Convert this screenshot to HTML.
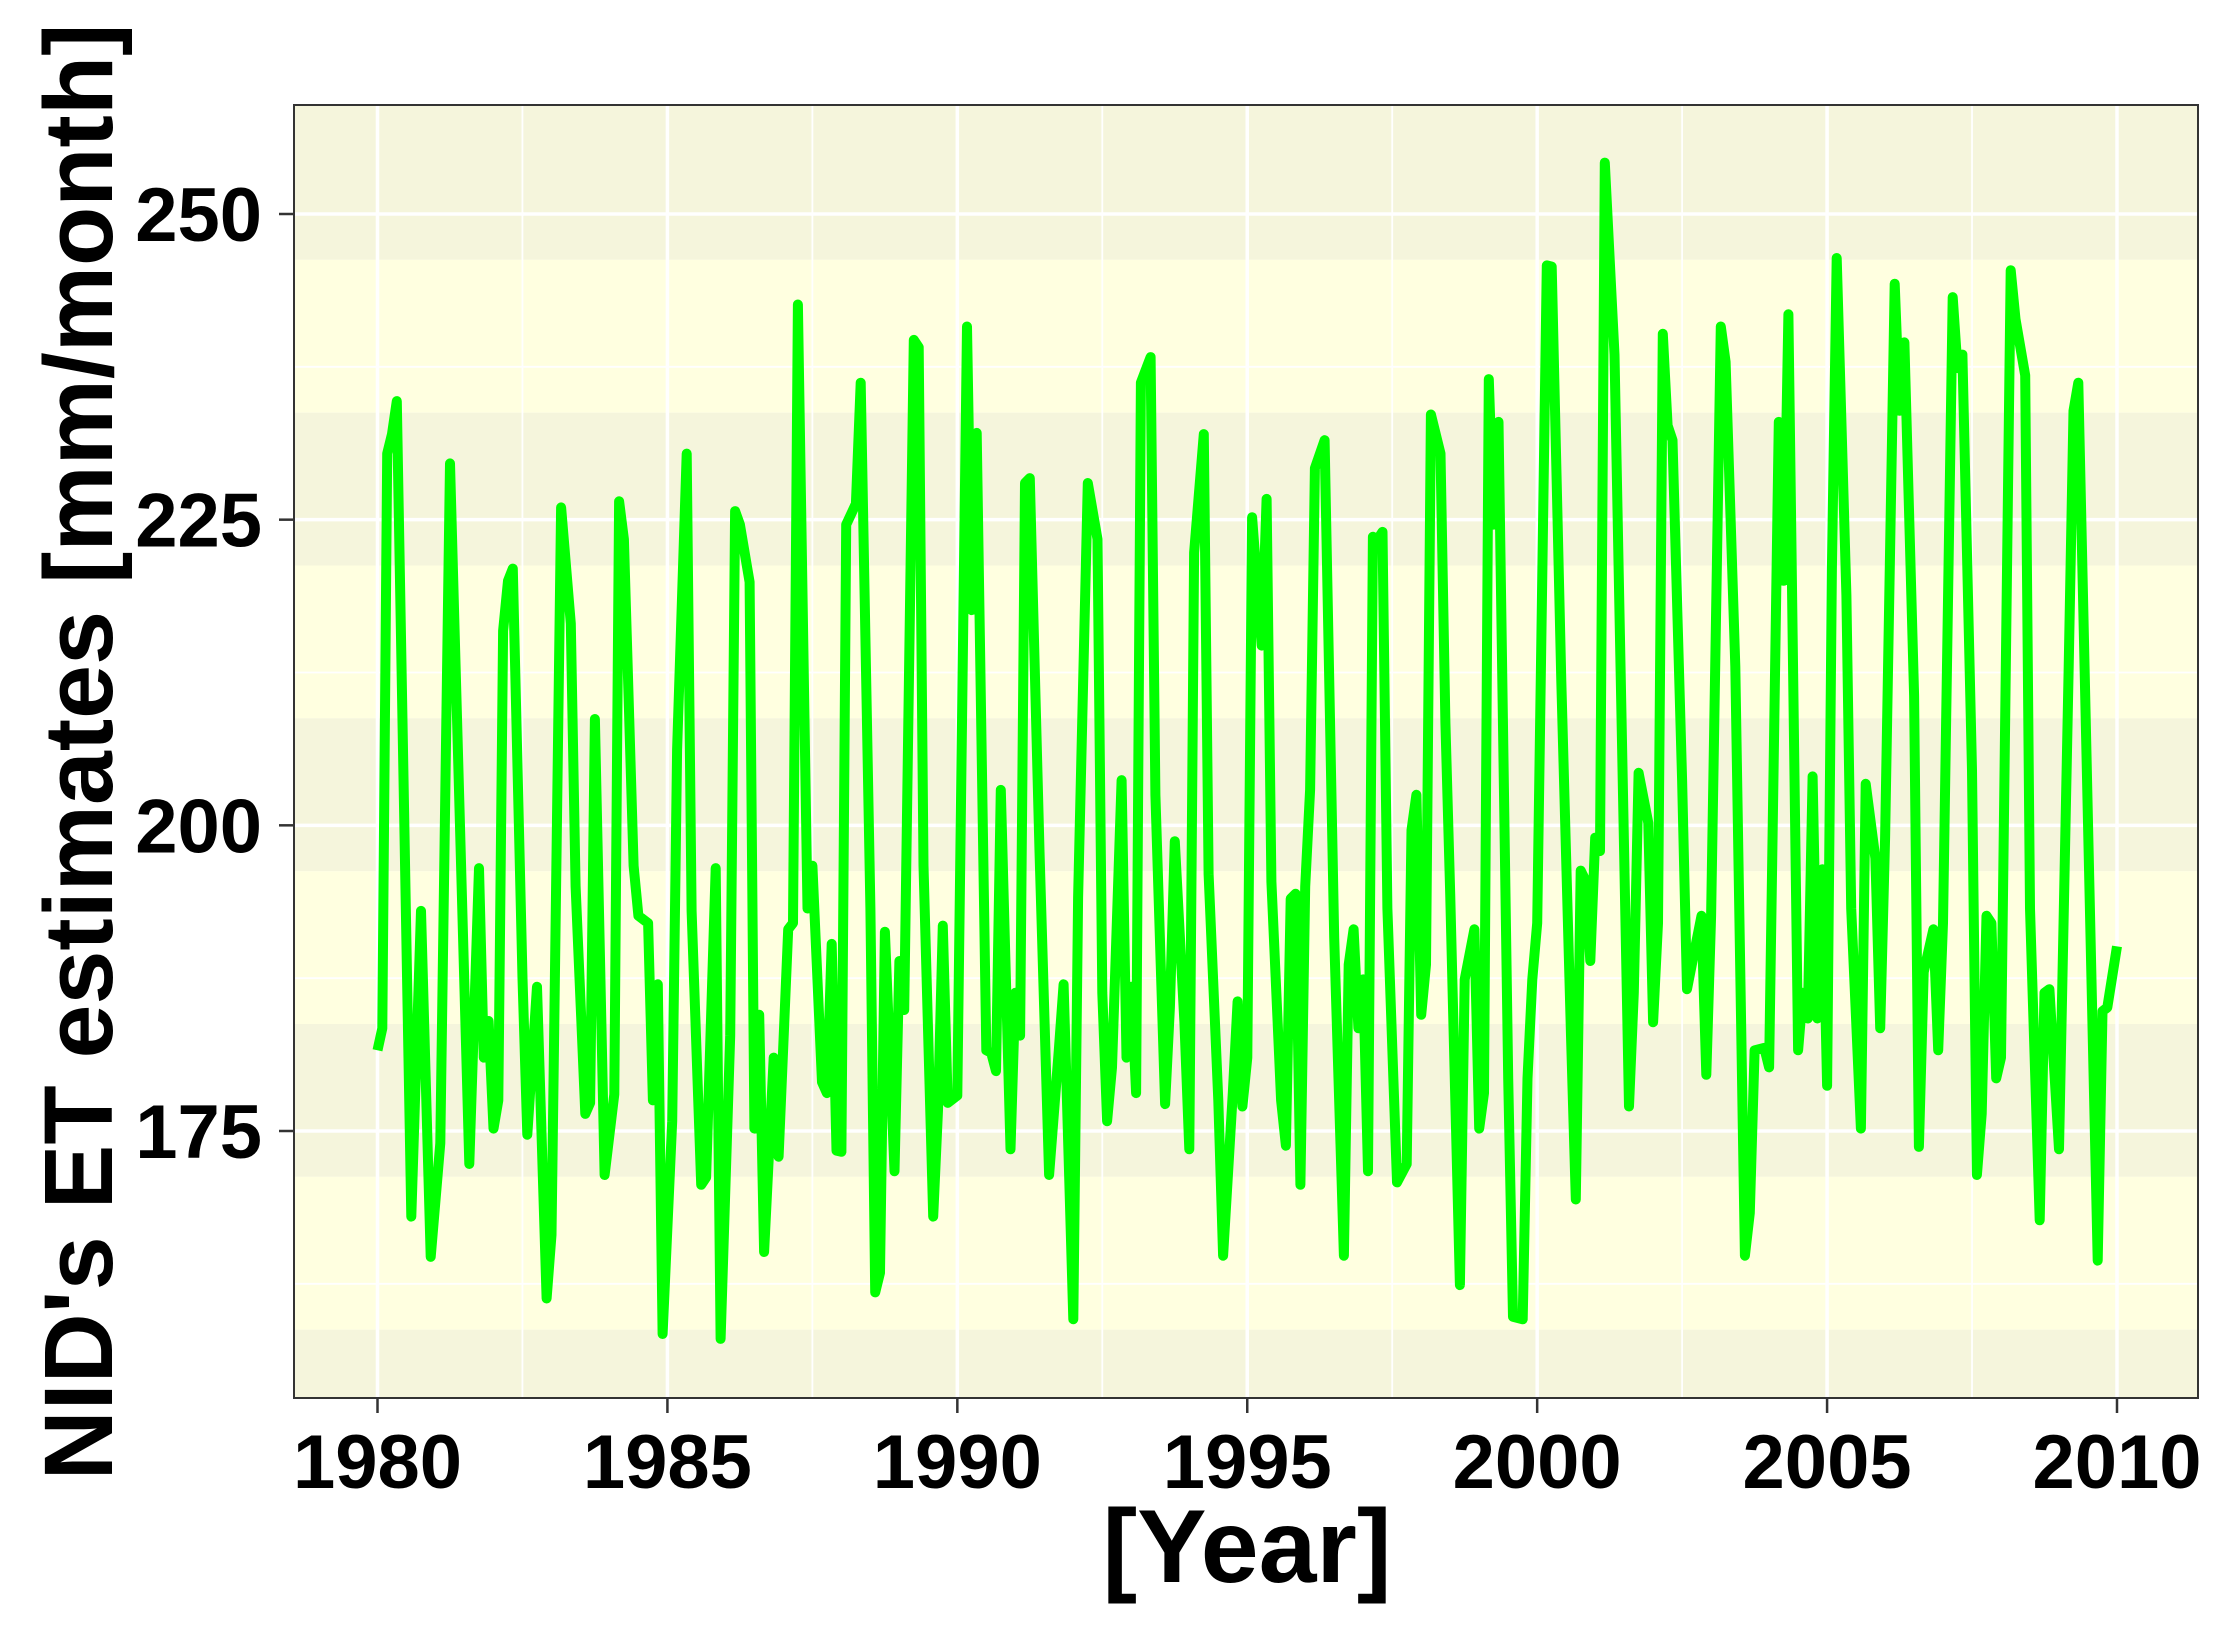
<!DOCTYPE html>
<html><head><meta charset="utf-8"><style>
html,body{margin:0;padding:0;background:#fff;}
svg{display:block;font-family:"Liberation Sans",Arial,sans-serif;font-weight:bold;}
</style></head><body>
<svg id="chart" width="2225" height="1626" viewBox="0 0 2225 1626" xmlns="http://www.w3.org/2000/svg">
<g id="bands"></g>
<g id="grid"></g>
<g id="series"></g>
<rect x="294" y="105" width="1904" height="1293" fill="none" stroke="#333" stroke-width="2"/>
<g id="axes"></g>
<text x="1247" y="1582" font-size="104" text-anchor="middle" fill="#000">[Year]</text>
<text transform="translate(112,752) rotate(-90)" font-size="97" text-anchor="middle" fill="#000">NID's ET estimates [mm/month]</text>
</svg>
<script>
const monthIdx=[0,1,2,3,4,7,9,11,13,15,19,21,22,23,24,25,26,27,28,30,31,33,35,36,38,40,41,43,44,45,47,49,50,51,53,54,56,57,58,59,61,62,64,65,67,68,70,71,73,74,75,77,78,79,80,82,83,85,86,87,89,90,92,93,94,95,96,97,99,100,102,103,104,105,107,108,109,111,112,113,115,116,117,118,120,122,123,124,126,127,128,129,131,132,133,134,135,137,139,141,142,144,145,147,149,150,151,152,154,155,156,157,158,160,161,163,164,165,167,168,169,171,172,174,175,177,178,179,180,181,183,184,185,187,188,189,190,191,192,193,194,196,198,200,201,202,203,204,205,206,207,208,209,211,213,214,215,216,217,218,220,221,222,224,225,227,228,229,230,231,232,234,235,237,238,239,240,242,243,245,247,248,249,250,251,252,253,254,256,258,259,260,261,263,264,265,266,267,268,270,271,272,274,275,276,278,279,281,283,284,285,287,288,290,291,292,294,295,296,297,298,299,300,301,302,304,305,307,308,310,311,312,314,315,316,318,319,320,322,323,324,326,327,328,330,331,332,333,334,335,336,338,339,341,342,344,345,346,348,350,351,352,354,356,357,358,360];
const etValues=[181.6,183.4,230.4,232,234.7,168,193,164.7,174,229.6,172.3,196.5,181,184,175.2,177.5,215.9,220,221,187.5,174.7,186.8,161.3,166.5,226,216.5,195,176.4,177.3,208.7,171.4,178,226.5,223.4,196.7,192.6,192,177.5,187,158.4,175.8,206.2,230.4,193,170.6,171.2,196.5,158,182.8,225.7,224.6,219.9,175.2,184.5,165.1,181,172.9,191.5,192,242.6,193.2,196.7,179,178.1,190.3,173.4,173.3,224.6,226.3,236.2,193.2,161.8,163.4,191.3,171.7,188.9,184.9,239.7,239.1,196.7,168,176.7,191.8,177.3,177.9,240.8,217.6,232.1,181.6,181.4,179.9,202.9,173.5,186.3,182.8,228,228.4,197.9,171.4,181.6,187,159.6,194.1,228,223.4,186.3,175.8,180.2,203.7,181,186.8,178.1,236.2,238.3,202.5,177.2,185.1,198.7,183.9,173.5,222.3,232,196,177.5,164.8,178.1,185.6,177,181,225.2,214.7,226.7,195.4,177.5,173.8,194,194.4,170.6,195,202.9,229.2,231.5,190.8,164.8,188.6,191.5,183.4,187.4,171.7,223.6,223.4,224,193.2,170.8,172.3,199.6,202.5,184.5,188.6,233.6,230.4,208.4,194.4,162.4,187.4,191.5,175.2,178.1,236.5,224.6,233,179.3,159.8,159.6,179.3,187.4,192,245.8,245.7,211.8,182.8,169.4,196.3,195.5,188.9,199,197.9,254.2,238.5,197.9,177,186.3,204.3,200.2,183.9,192,240.2,232.7,231.5,203.7,186.6,188.6,192.6,179.6,192.6,240.8,237.9,213,164.8,168.3,181.6,181.8,180.2,233,220,241.8,181.6,186.3,184.2,204,184.2,196.4,178.7,221,246.4,218.8,193.2,175.2,203.4,197.3,183.4,199,244.3,233.9,239.5,210.6,173.7,188,191.5,181.6,192,243.2,237.4,238.5,204.5,171.4,176.4,192.6,192,179.3,181,245.4,241.4,236.8,193.2,167.7,186.3,186.6,173.5,213,233.9,236.2,200.2,164.4,184.8,185.1,190.1];
const xTicks=[1980,1985,1990,1995,2000,2005,2010];
const yTicks=[175,200,225,250];
const startYear=1980;
const NS='http://www.w3.org/2000/svg';
const X0=294,X1=2198,Y0=105,Y1=1398;
function xs(yr){return 377.5+(yr-1980)*(2117-377.5)/30;}
function ys(v){return 214+(250-v)*(1131-214)/75;}
function vAt(y){return 250-(y-214)*75/(1131-214);}
function mk(tag,attrs,parent){const e=document.createElementNS(NS,tag);for(const k in attrs)e.setAttribute(k,attrs[k]);parent.appendChild(e);return e;}
const bandsG=document.getElementById('bands'),gridG=document.getElementById('grid'),axesG=document.getElementById('axes'),seriesG=document.getElementById('series');
let curTop=Y0,bIdx=0;
const edges=[];for(let v=246.25;v>vAt(Y1);v-=12.5)edges.push(ys(v));edges.push(Y1);
for(const e of edges){const r=mk('rect',{x:X0,y:curTop,width:X1-X0,height:e-curTop,fill:bIdx%2?'#ffffe0':'#f5f5dc'},bandsG);


curTop=e;bIdx++;}
for(let v=162.5;v<=262.5;v+=12.5){const y=ys(v);if(y<Y0||y>Y1)continue;const major=Math.abs(v%25)<0.01;
const l=mk('line',{x1:X0,x2:X1,y1:y,y2:y,stroke:'#fff','stroke-width':major?3.5:1.8},gridG);

}
for(let yr=1977.5;yr<=2012.5;yr+=2.5){const x=xs(yr);if(x<X0||x>X1)continue;const major=yr%5===0;
const l=mk('line',{x1:x,x2:x,y1:Y0,y2:Y1,stroke:'#fff','stroke-width':major?3.5:1.8},gridG);

}
let d='';monthIdx.forEach((m,i)=>{d+=(i?'L':'M')+xs(startYear+m/12).toFixed(1)+','+ys(etValues[i]).toFixed(1);});
const p=mk('path',{d:d,fill:'none',stroke:'#00ff00','stroke-width':10,'stroke-linejoin':'round','stroke-linecap':'butt'},seriesG);


for(const v of yTicks){const y=ys(v);
const t=mk('line',{x1:X0-15,x2:X0,y1:y,y2:y,stroke:'#333','stroke-width':2.5},axesG);


const tx=mk('text',{x:X0-32,y:y+27,'font-size':76,'text-anchor':'end',fill:'#000'},axesG);tx.textContent=v;

}
for(const yr of xTicks){const x=xs(yr);
const t=mk('line',{x1:x,x2:x,y1:Y1,y2:Y1+15,stroke:'#333','stroke-width':2.5},axesG);


const tx=mk('text',{x:x,y:Y1+90,'font-size':76,'text-anchor':'middle',fill:'#000'},axesG);tx.textContent=yr;

}
</script>
</body></html>
